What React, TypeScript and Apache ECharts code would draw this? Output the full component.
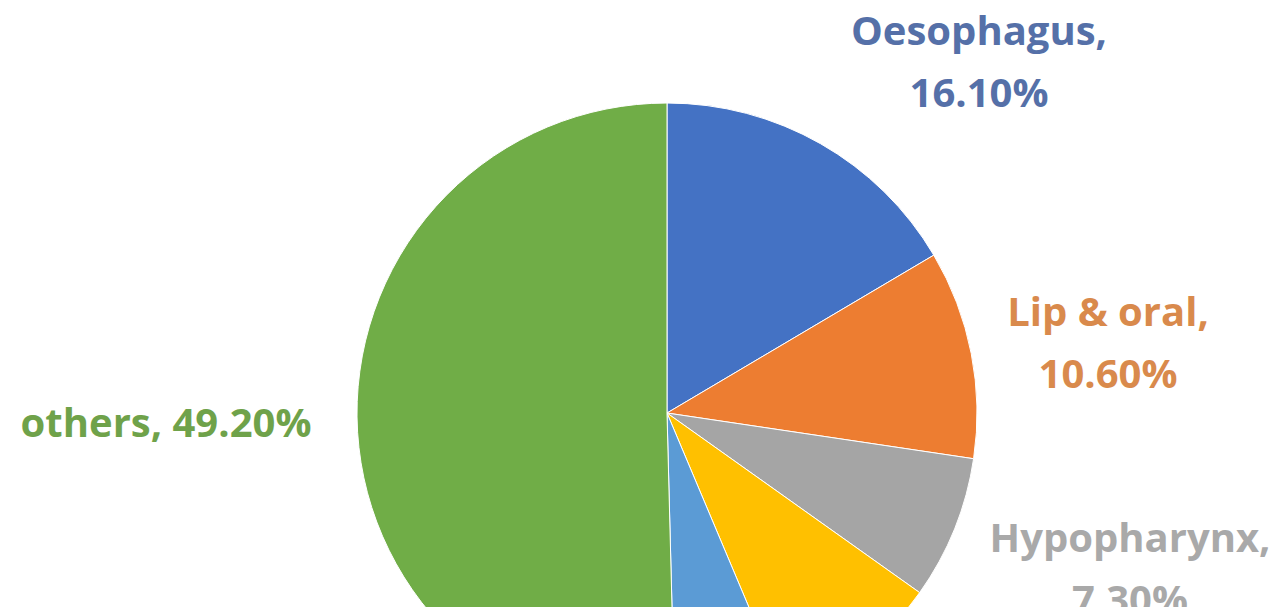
import React, { useEffect, useRef } from "react";
import * as echarts from "echarts";

const categories = ["Oesophagus", "Lip & oral", "Hypopharynx", "Category 4", "Category 5", "others"];
const values = [16.1, 10.6, 7.3, 8.6, 5.8, 49.2];
const labelTexts = ["Oesophagus,\n16.10%", "Lip & oral,\n10.60%", "Hypopharynx,\n7.30%", "", "", "others, 49.20%"];
const sliceColors = ["#4472C4", "#ED7D31", "#A5A5A5", "#FFC000", "#5B9BD5", "#70AD47"];
const labelColors = ["#5570a8", "#d98a4c", "#a9a9a9", "#c9a030", "#5b8fc0", "#6fa24a"];
const showLabel = [true, true, true, false, false, true];

const labelPos: Array<[number, number]> = [
  [979, 60],
  [1108, 341],
  [1130, 567],
  [0, 0],
  [0, 0],
  [166, 421],
];

export default function App() {
  const ref = useRef<HTMLDivElement>(null);
  useEffect(() => {
    document.body.style.margin = "0";
    const chart = echarts.init(ref.current!, null, { renderer: "svg" });
    chart.setOption({
      animation: false,
      backgroundColor: "#ffffff",
      series: [
        {
          type: "pie",
          center: [667, 413],
          radius: [0, 310],
          startAngle: 90,
          clockwise: true,
          avoidLabelOverlap: false,
          itemStyle: { borderColor: "#ffffff", borderWidth: 1 },
          label: {
            show: true,
            position: "outside",
            fontFamily: "Open Sans",
            fontWeight: "bold",
            fontSize: 40,
            lineHeight: 62,
            align: "center",
          },
          labelLine: { show: false },
          labelLayout: (params: any) => {
            const p = labelPos[params.dataIndex];
            return { x: p[0], y: p[1], align: "center", verticalAlign: "middle", hideOverlap: false };
          },
          data: categories.map((name, i) => ({
            name,
            value: values[i],
            itemStyle: { color: sliceColors[i] },
            label: {
              show: showLabel[i],
              formatter: labelTexts[i],
              color: labelColors[i],
            },
          })),
        },
      ],
    });
    return () => chart.dispose();
  }, []);
  return <div ref={ref} style={{ width: 1274, height: 607 }} />;
}
